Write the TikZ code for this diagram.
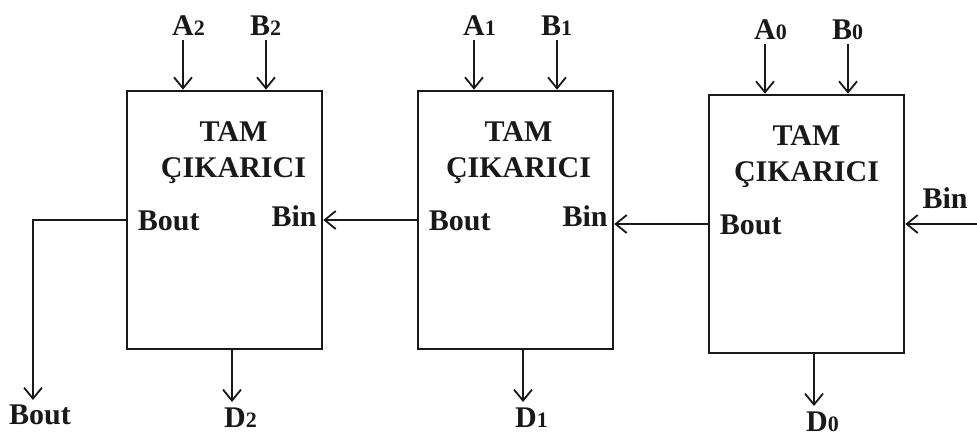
\documentclass[tikz,border=0pt]{standalone}
\usepackage{fontspec}
\setmainfont{Liberation Serif}
\usetikzlibrary{arrows.meta, positioning}
\newcommand{\lsub}[1]{{\fontsize{11}{11}\selectfont #1}}

\begin{document}
\begin{tikzpicture}[
    x=0.5pt, y=-0.5pt,
    >={Straight Barb[length=5.5pt,width=9pt]},
    every node/.style={font=\fontsize{15}{18}\selectfont\bfseries, text=black!90, inner sep=0pt},
    fsbox/.style={draw=black!90, line width=1.3pt, minimum width=97.5pt, minimum height=129pt},
    wire/.style={draw=black!90, line width=0.9pt},
]
\useasboundingbox (0,0) rectangle (977,440);
% three full-subtractor stages, 2 on the left, 0 on the right
\foreach \i/\x/\y/\t in {2/224.5/220/9, 1/515.5/220/3, 0/806.5/224/0}{
  \node[fsbox] (fs\i) at (\x,\y) {};
  \node[align=center] (t\i) at ({\x+\t},{\y-67}) {TAM\\ÇIKARICI};
  \node[anchor=west] (bo\i) at ({\x-87},{\y+1}) {Bout};
  % inputs A and B from the top
  \coordinate (atop\i) at ({\x-41.5},{\y-180});
  \coordinate (btop\i) at ({\x+41.5},{\y-180});
  \node[anchor=south] (a\i) at ({\x-36},{\y-184}) {A\lsub{\i}};
  \node[anchor=south] (b\i) at ({\x+41},{\y-184}) {B\lsub{\i}};
  \draw[wire,->] (atop\i) -- (atop\i |- fs\i.north);
  \draw[wire,->] (btop\i) -- (btop\i |- fs\i.north);
  % difference output D at the bottom
  \coordinate (dend\i) at ({\x+7.5},{\y+182});
  \node[anchor=north] (d\i) at ({\x+16},{\y+187}) {D\lsub{\i}};
  \draw[wire,->] (dend\i |- fs\i.south) -- (dend\i);
}
\node[anchor=east] (bi2) at ({322-5},{216}) {Bin};
\node[anchor=east] (bi1) at ({613-5},{216}) {Bin};
\node (bi0) at (945,198) {Bin};
% borrow chain
\draw[wire,->] (fs1.west) -- (fs2.east);
\draw[wire,->] (fs0.west) -- (fs0.west -| fs1.east);
\coordinate (binsrc) at (977,224);
\draw[wire,->] (binsrc) -- (fs0.east);
\coordinate (boutend) at (33,400);
\node[anchor=north] (bout) at (40,404) {Bout};
\draw[wire,->] (fs2.west) -| (boutend);
\end{tikzpicture}
\end{document}
